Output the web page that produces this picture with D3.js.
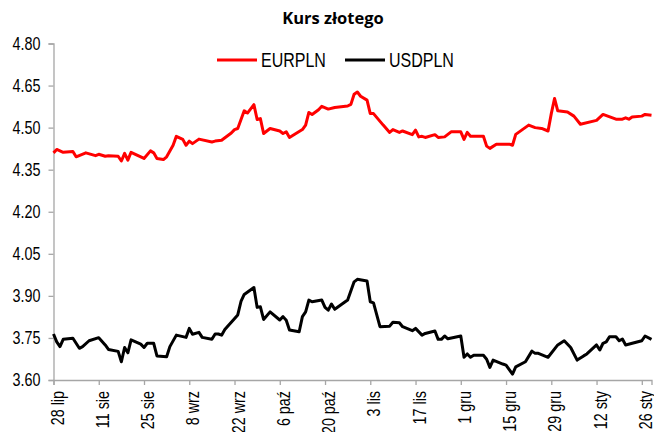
<!DOCTYPE html>
<meta charset="utf-8">
<title>Kurs złotego</title>
<script src="https://d3js.org/d3.v7.min.js"></script>
<style>
body {
  margin: 0;
  background: #fff;
}
.tick text, .legend text {
  font-family: "Liberation Sans", Arial, sans-serif;
  fill: #000;
}
.title {
  font-family: "Open Sans", Lato, sans-serif;
  font-weight: bold;
  font-size: 16.5px;
}
</style>
<body>
<div id="chart"></div>
<script>

// EURPLN
var eurDates = ["2020-07-28","2020-07-29","2020-07-31","2020-08-03","2020-08-04","2020-08-07","2020-08-10","2020-08-11",
  "2020-08-13","2020-08-14","2020-08-17","2020-08-18","2020-08-19","2020-08-20","2020-08-21","2020-08-25","2020-08-27",
  "2020-08-28","2020-08-29","2020-08-31","2020-09-01","2020-09-03","2020-09-04","2020-09-06","2020-09-07","2020-09-08",
  "2020-09-09","2020-09-11","2020-09-15","2020-09-16","2020-09-18","2020-09-21","2020-09-22","2020-09-23","2020-09-25",
  "2020-09-26","2020-09-28","2020-09-29","2020-09-30","2020-10-01","2020-10-03","2020-10-06","2020-10-07","2020-10-08",
  "2020-10-09","2020-10-13","2020-10-14","2020-10-15","2020-10-16","2020-10-18","2020-10-19","2020-10-21","2020-10-23",
  "2020-10-27","2020-10-28","2020-10-29","2020-10-30","2020-10-31","2020-11-02","2020-11-03","2020-11-04","2020-11-07",
  "2020-11-09","2020-11-10","2020-11-12","2020-11-13","2020-11-16","2020-11-17","2020-11-18","2020-11-19","2020-11-20",
  "2020-11-23","2020-11-24","2020-11-26","2020-11-28","2020-12-01","2020-12-02","2020-12-03","2020-12-04","2020-12-08",
  "2020-12-09","2020-12-10","2020-12-12","2020-12-16","2020-12-17","2020-12-18","2020-12-22","2020-12-24","2020-12-26",
  "2020-12-28","2020-12-29","2020-12-30","2020-12-31","2021-01-03","2021-01-05","2021-01-07","2021-01-12","2021-01-14",
  "2021-01-18","2021-01-20","2021-01-21","2021-01-22","2021-01-23","2021-01-26","2021-01-27","2021-01-29"];
var eurValues = [4.410,4.422,4.412,4.415,4.396,4.410,4.400,4.405,
  4.398,4.400,4.398,4.381,4.408,4.384,4.412,4.390,4.417,
  4.410,4.390,4.386,4.396,4.437,4.469,4.458,4.437,4.452,
  4.443,4.459,4.449,4.452,4.455,4.481,4.493,4.497,4.560,
  4.552,4.582,4.529,4.532,4.479,4.497,4.488,4.479,4.485,
  4.465,4.493,4.509,4.554,4.547,4.564,4.576,4.566,4.572,
  4.577,4.583,4.619,4.627,4.612,4.598,4.550,4.550,4.509,
  4.483,4.493,4.483,4.488,4.475,4.491,4.467,4.469,4.465,
  4.475,4.465,4.467,4.485,4.485,4.458,4.483,4.469,4.469,
  4.434,4.426,4.441,4.441,4.437,4.476,4.509,4.500,4.497,
  4.488,4.550,4.604,4.560,4.556,4.541,4.512,4.526,4.547,
  4.530,4.530,4.535,4.530,4.538,4.541,4.547,4.544];

// USDPLN
var usdDates = ["2020-07-28","2020-07-29","2020-07-30","2020-07-31","2020-08-03","2020-08-05","2020-08-06","2020-08-08",
  "2020-08-11","2020-08-13","2020-08-14","2020-08-17","2020-08-18","2020-08-19","2020-08-20","2020-08-21","2020-08-24",
  "2020-08-25","2020-08-26","2020-08-28","2020-08-29","2020-09-01","2020-09-02","2020-09-04","2020-09-07","2020-09-08",
  "2020-09-09","2020-09-11","2020-09-12","2020-09-15","2020-09-16","2020-09-17","2020-09-18","2020-09-19","2020-09-23",
  "2020-09-24","2020-09-25","2020-09-28","2020-09-29","2020-09-30","2020-10-01","2020-10-03","2020-10-06","2020-10-07",
  "2020-10-08","2020-10-09","2020-10-12","2020-10-13","2020-10-14","2020-10-15","2020-10-16","2020-10-19","2020-10-20",
  "2020-10-21","2020-10-22","2020-10-23","2020-10-27","2020-10-29","2020-10-30","2020-11-02","2020-11-03","2020-11-04",
  "2020-11-06","2020-11-09","2020-11-10","2020-11-12","2020-11-13","2020-11-16","2020-11-17","2020-11-19","2020-11-20",
  "2020-11-23","2020-11-24","2020-11-25","2020-11-26","2020-11-27","2020-12-01","2020-12-02","2020-12-03","2020-12-04",
  "2020-12-05","2020-12-08","2020-12-09","2020-12-10","2020-12-11","2020-12-14","2020-12-15","2020-12-17","2020-12-18",
  "2020-12-21","2020-12-23","2020-12-24","2020-12-25","2020-12-28","2020-12-31","2021-01-02","2021-01-04","2021-01-06",
  "2021-01-08","2021-01-09","2021-01-12","2021-01-13","2021-01-14","2021-01-15","2021-01-16","2021-01-18","2021-01-19",
  "2021-01-20","2021-01-21","2021-01-26","2021-01-27","2021-01-29"];
var usdValues = [3.764,3.736,3.719,3.745,3.749,3.713,3.719,3.740,
  3.751,3.725,3.709,3.702,3.665,3.716,3.697,3.743,3.728,
  3.716,3.731,3.731,3.686,3.683,3.719,3.760,3.752,3.784,
  3.763,3.770,3.752,3.745,3.764,3.764,3.760,3.780,3.832,
  3.880,3.905,3.930,3.859,3.861,3.816,3.843,3.814,3.826,
  3.813,3.778,3.772,3.826,3.843,3.885,3.879,3.885,3.859,
  3.849,3.871,3.852,3.885,3.950,3.959,3.953,3.879,3.875,
  3.790,3.792,3.806,3.804,3.790,3.776,3.784,3.760,3.766,
  3.775,3.745,3.745,3.757,3.747,3.757,3.681,3.693,3.681,
  3.688,3.688,3.674,3.645,3.671,3.657,3.653,3.621,3.647,
  3.665,3.703,3.695,3.695,3.681,3.725,3.740,3.716,3.671,
  3.686,3.693,3.725,3.707,3.731,3.736,3.754,3.754,3.740,
  3.746,3.725,3.740,3.757,3.745];

var yTicks = [3.60, 3.75, 3.90, 4.05, 4.20, 4.35, 4.50, 4.65, 4.80];
var xTickDates = ["2020-07-28","2020-08-11","2020-08-25","2020-09-08","2020-09-22","2020-10-06","2020-10-20",
  "2020-11-03","2020-11-17","2020-12-01","2020-12-15","2020-12-29","2021-01-12","2021-01-26"];
var monthNames = ["sty","lut","mar","kwi","maj","cze","lip","sie","wrz","paź","lis","gru"];
var seriesNames = ["EURPLN", "USDPLN"];
var seriesColors = ["#ff0000", "#000000"];

var width = 654, height = 432;
var narrow = 0.82; // the original uses a narrow font; squeeze Liberation Sans to match
var parse = d3.utcParse("%Y-%m-%d");

var svg = d3.select("#chart").append("svg")
  .attr("width", width)
  .attr("height", height);

var x = d3.scaleUtc()
  .domain([parse("2020-07-28"), parse("2021-01-29")])
  .range([53.5, 651.5]);

var y = d3.scaleLinear()
  .domain([3.60, 4.80])
  .range([380, 43.5]);

function series(dates, values) {
  return dates.map(function(d, i) { return {date: parse(d), value: values[i]}; });
}
var data = [series(eurDates, eurValues), series(usdDates, usdValues)];

function squeeze(sel) {
  sel.each(function() {
    var w = this.getComputedTextLength();
    d3.select(this)
      .attr("textLength", w * narrow)
      .attr("lengthAdjust", "spacingAndGlyphs");
  });
}

svg.append("text")
  .attr("class", "title")
  .attr("x", 333)
  .attr("y", 24)
  .attr("text-anchor", "middle")
  .text("Kurs złotego");

// y axis
var yAxis = svg.append("g")
  .attr("transform", "translate(53.5,0)")
  .call(d3.axisLeft(y).tickValues(yTicks).tickFormat(d3.format(".2f")).tickSize(5).tickPadding(8));
yAxis.selectAll("text").style("font-size", "17.5px").call(squeeze);

// x axis
var xAxis = svg.append("g")
  .attr("transform", "translate(0,380)")
  .call(d3.axisBottom(x)
    .tickValues(xTickDates.map(parse))
    .tickFormat(function(d) { return d.getUTCDate() + " " + monthNames[d.getUTCMonth()]; })
    .tickSize(5));
xAxis.selectAll("text")
  .style("font-size", "17.5px")
  .attr("text-anchor", "end")
  .attr("transform", "rotate(-90)")
  .attr("x", -11)
  .attr("y", 3.5)
  .attr("dy", "0.35em")
  .call(squeeze);

svg.selectAll(".domain, .tick line")
  .attr("stroke", "#a6a6a6")
  .attr("stroke-width", 1.3);

var line = d3.line()
  .x(function(d) { return x(d.date); })
  .y(function(d) { return y(d.value); });

svg.selectAll(".series")
  .data(data)
  .enter().append("path")
  .attr("class", "series")
  .attr("fill", "none")
  .attr("stroke", function(d, i) { return seriesColors[i]; })
  .attr("stroke-width", 3)
  .attr("stroke-linejoin", "round")
  .attr("d", line);

// legend
var legend = svg.append("g").attr("class", "legend");
var lx = [217, 345];
seriesNames.forEach(function(name, i) {
  legend.append("line")
    .attr("x1", lx[i]).attr("x2", lx[i] + 40)
    .attr("y1", 60).attr("y2", 60)
    .attr("stroke", seriesColors[i])
    .attr("stroke-width", 3);
  legend.append("text")
    .attr("x", lx[i] + 44)
    .attr("y", 66.5)
    .style("font-size", "19.5px")
    .text(name)
    .call(squeeze);
});

</script>
</body>
